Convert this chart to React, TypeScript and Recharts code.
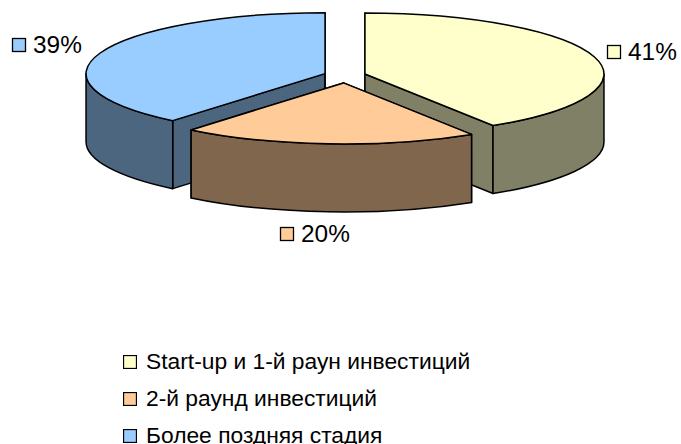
import { PieChart, Pie, Legend } from "recharts";

// legend order, as in the source chart
const categories = ["Start-up и 1-й раун инвестиций", "2-й раунд инвестиций", "Более поздняя стадия"];
const shares = [41, 20, 39];
const topColors = ["#FFFFCC", "#FFCC99", "#99CCFF"];
const wallColors = ["#808066", "#80664D", "#4D6680"];

// slices are drawn blue, yellow, orange so the front slice paints last
const drawOrder = [2, 0, 1];
const pieData = drawOrder.map((i) => ({
  name: categories[i],
  value: shares[i],
  fill: topColors[i],
  wall: wallColors[i],
}));
const total = shares.reduce((a, b) => a + b, 0);
const firstAngle = 90 + (360 * shares[2]) / total;

const CX = 344.8;
const CY = 76;
const RX = 239;
const RY = 61;
const DEPTH = 68;
const EXPLODE = 21;
const FONT = "'Liberation Sans', Arial, sans-serif";
const rad = Math.PI / 180;

function Slice3D(props: any) {
  const { startAngle, endAngle, midAngle, cx, cy, fill, wall } = props;
  const ox = cx + EXPLODE * Math.cos(midAngle * rad);
  const oy = cy - EXPLODE * 0.33 * Math.sin(midAngle * rad);
  const pt = (a: number, d = 0) => [ox + RX * Math.cos(a * rad), oy - RY * Math.sin(a * rad) + d];
  const large = Math.abs(startAngle - endAngle) > 180 ? 1 : 0;
  const [sx, sy] = pt(startAngle);
  const [ex, ey] = pt(endAngle);
  const top = `M${ox},${oy} L${sx},${sy} A${RX},${RY} 0 ${large} 1 ${ex},${ey} Z`;
  const radial = (x: number, y: number) =>
    `M${ox},${oy} L${x},${y} L${x},${y + DEPTH} L${ox},${oy + DEPTH} Z`;

  // front part of the rim: the arc with its lower half of the ellipse
  let a0 = startAngle;
  let a1 = endAngle;
  let rim = null;
  const norm = (a: number) => ((a % 360) + 360) % 360;
  if (norm(startAngle) < 180 && norm(startAngle) > 0) a0 = 0;
  if (norm(endAngle) < 180 && norm(endAngle) > 0) a1 = 180;
  if (a0 !== 0 || a1 !== 180) {
    const [x0, y0] = pt(a0);
    const [x1, y1] = pt(a1);
    rim = `M${x0},${y0} A${RX},${RY} 0 0 1 ${x1},${y1} L${x1},${y1 + DEPTH} A${RX},${RY} 0 0 0 ${x0},${y0 + DEPTH} Z`;
  }
  const line = { stroke: "#000", strokeWidth: 1.5, strokeLinejoin: "round" as const };
  return (
    <g>
      <path d={radial(sx, sy)} fill={wall} {...line} />
      <path d={radial(ex, ey)} fill={wall} {...line} />
      {rim && <path d={rim} fill={wall} {...line} />}
      <path d={top} fill={fill} {...line} />
    </g>
  );
}

const labelBoxes: Record<string, [number, number]> = {
  [categories[0]]: [607, 45],
  [categories[1]]: [280, 227],
  [categories[2]]: [12, 38],
};

function SliceLabel(props: any) {
  const { name, value, fill } = props;
  const [x, y] = labelBoxes[name];
  return (
    <g>
      <rect x={x + 0.5} y={y + 0.5} width={13} height={13} fill={fill} stroke="#000" strokeWidth={1.3} />
      <text x={x + 21} y={y + 15} fontFamily={FONT} fontSize={24.4} fill="#000">
        {value}%
      </text>
    </g>
  );
}

function LegendBox() {
  return (
    <div style={{ fontFamily: FONT, fontSize: 22.8, color: "#000" }}>
      {categories.map((c, i) => (
        <div key={c} style={{ display: "flex", alignItems: "center", height: 37, whiteSpace: "nowrap" }}>
          <svg width={14} height={14} style={{ marginRight: 9, flex: "none" }}>
            <rect x={0.5} y={0.5} width={13} height={13} fill={topColors[i]} stroke="#000" strokeWidth={1.3} />
          </svg>
          {c}
        </div>
      ))}
    </div>
  );
}

export default function App() {
  return (
    <div style={{ position: "absolute", left: 0, top: 0, width: 681, height: 444, background: "#fff" }}>
      <PieChart width={681} height={444} margin={{ top: 0, right: 0, bottom: 0, left: 0 }}>
        <Pie
          data={pieData}
          dataKey="value"
          nameKey="name"
          cx={CX}
          cy={CY}
          outerRadius={RX}
          startAngle={firstAngle}
          endAngle={firstAngle - 360}
          stroke="none"
          shape={Slice3D}
          label={SliceLabel}
          labelLine={false}
          isAnimationActive={false}
        />
        <Legend
          content={LegendBox}
          wrapperStyle={{ left: 123, top: 343, width: 400, bottom: "auto" }}
        />
      </PieChart>
    </div>
  );
}
